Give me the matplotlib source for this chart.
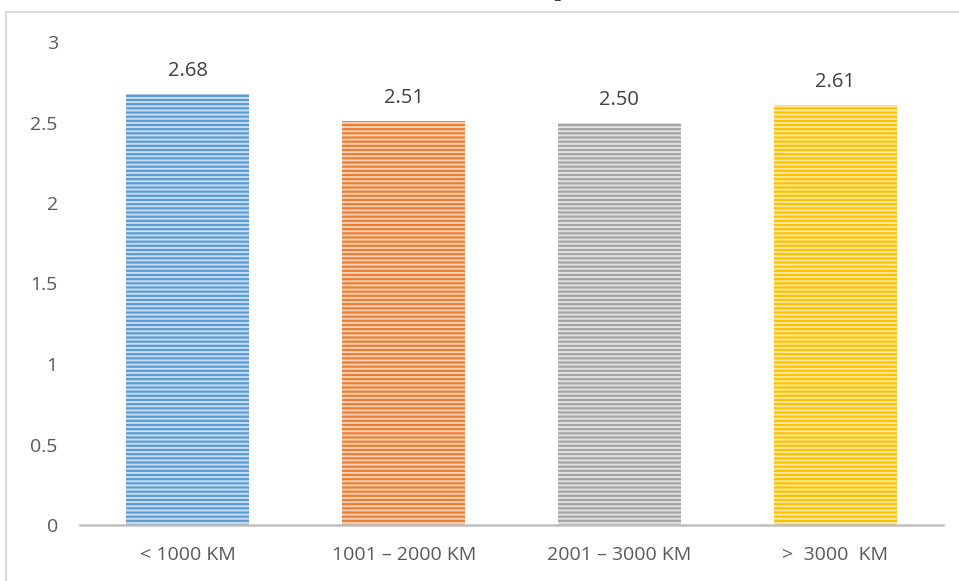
import matplotlib
matplotlib.use("Agg")
import matplotlib.pyplot as plt
from matplotlib.patches import Rectangle

# chart data
categories = ["< 1000 KM", "1001 – 2000 KM", "2001 – 3000 KM", ">  3000  KM"]
values = [2.68, 2.51, 2.50, 2.61]
value_labels = ["2.68", "2.51", "2.50", "2.61"]
y_ticks = [0, 0.5, 1, 1.5, 2, 2.5, 3]
y_tick_labels = ["0", "0.5", "1", "1.5", "2", "2.5", "3"]

bar_colors = ["#5B9BD5", "#ED7D31", "#A5A5A5", "#FFC000"]
stripe_colors = ["#C9DEF1", "#F9D2B8", "#E2E2E2", "#FFE9A3"]

plt.rcParams["font.family"] = ["Open Sans", "DejaVu Sans"]
plt.rcParams["hatch.linewidth"] = 1.4

fig = plt.figure(figsize=(9.59, 5.81), dpi=100)
ax = fig.add_axes([80 / 959, 1 - 525 / 581, 863 / 959, (525 - 42) / 581])

x = range(len(categories))
ax.bar(x, values, width=0.57, color=bar_colors, linewidth=0)
# light horizontal stripes on top of the fill
for i, v in enumerate(values):
    ax.bar(i, v, width=0.57, facecolor="none", edgecolor=stripe_colors[i],
           hatch="----", linewidth=0)

for i, v in enumerate(values):
    ax.annotate(value_labels[i], (i, v), xytext=(0, 9), textcoords="offset points",
                ha="center", va="bottom", fontsize=14.5, color="#404040")

ax.set_xlim(-0.5, 3.5)
ax.set_ylim(0, 3)
ax.set_xticks(list(x))
ax.set_xticklabels(categories, fontsize=14, color="#595959")
ax.set_yticks(y_ticks)
ax.set_yticklabels(y_tick_labels, fontsize=14, color="#595959")
ax.tick_params(axis="both", length=0)
ax.tick_params(axis="x", pad=15)
ax.tick_params(axis="y", pad=16)

for s in ["top", "right", "left"]:
    ax.spines[s].set_visible(False)
ax.spines["bottom"].set_color("#BFBFBF")
ax.spines["bottom"].set_linewidth(1.8)

# outer chart frame
fig.patches.append(Rectangle((5.5 / 959, -0.1), 1.2, 1.1 - 12 / 581,
                             transform=fig.transFigure, fill=False,
                             edgecolor="#D9D9D9", linewidth=1.6))

# bottom of the title line above the frame
fig.text(557 / 959, 1 + 3 / 581, "g", ha="center", va="baseline",
         fontsize=14, color="black", family="Liberation Serif")

fig.savefig("out.png", dpi=100)
